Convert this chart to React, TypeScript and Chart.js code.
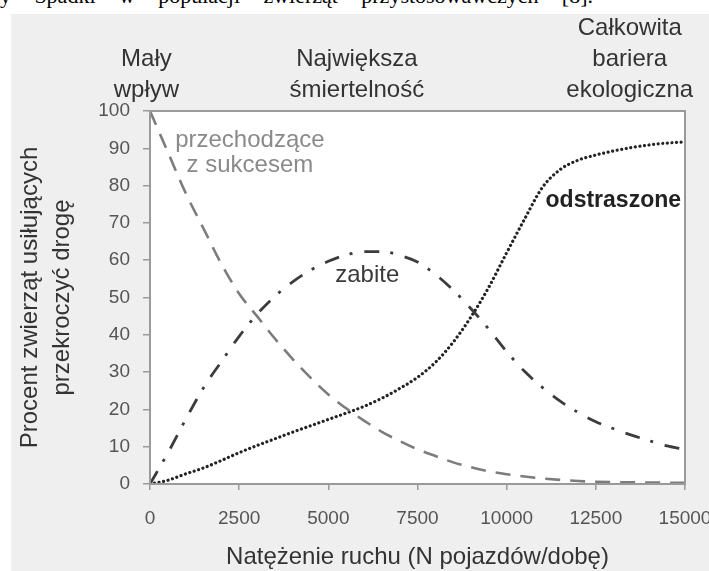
import React, { useEffect, useRef } from "react";
import { Chart, registerables } from "chart.js";

Chart.register(...registerables);

// ---- data ----
const traffic = [
  0, 500, 1000, 1500, 2000, 2500, 3000, 3500, 4000, 4500, 5000, 5500, 6000, 6500, 7000,
  7500, 8000, 8500, 9000, 9500, 10000, 10500, 11000, 11500, 12000, 12500, 13000, 13500,
  14000, 14500, 15000,
];
const successful = [
  100, 89, 78, 68.5, 59, 51, 45, 39, 33.5, 28.5, 24, 20.3, 17, 14, 11.5, 9.3, 7.5, 5.8, 4.5,
  3.4, 2.6, 2, 1.5, 1.1, 0.8, 0.6, 0.5, 0.45, 0.4, 0.35, 0.3,
];
const killed = [
  0, 8.3, 17.3, 25.8, 32.8, 39.6, 45.5, 50.3, 54.2, 57.3, 59.7, 61.4, 62.3, 62.3, 61.3, 59.5,
  56.2, 52, 47, 41.5, 35.5, 30.2, 25.9, 22.2, 19.2, 16.7, 14.8, 13.1, 11.6, 10.2, 9.2,
];
const repelled = [
  0, 1, 2.7, 4.3, 6.3, 8.4, 10.3, 12.1, 13.9, 15.6, 17.3, 19, 20.8, 23, 25.6, 28.6, 32.6,
  38, 44.8, 52.8, 62, 71, 79.5, 84.3, 86.8, 88.2, 89.3, 90.2, 90.9, 91.4, 91.7,
];

const seriesNames = ["przechodzące z sukcesem", "zabite", "odstraszone"];
const xTickStep = 2500;
const yTickStep = 10;

const headerTexts = [
  ["Mały", "wpływ"],
  ["Największa", "śmiertelność"],
  ["Całkowita", "bariera", "ekologiczna"],
];
const headerAtX = [-100, 5800, 13450];

const curveLabelTexts = [["przechodzące", "z sukcesem"], ["zabite"], ["odstraszone"]];
const curveLabelAtX = [2800, 6090, 12990];
const curveLabelAtY = [92.2, 56, 75.9];

const yTitle = ["Procent zwierząt usiłujących", "przekroczyć drogę"];
const xTitle = "Natężenie ruchu (N pojazdów/dobę)";

const FONT = "'Liberation Sans', Arial, sans-serif";

const decorPlugin = {
  id: "decor",
  beforeDatasetsDraw(chart: any) {
    const { ctx, chartArea: a } = chart;
    ctx.save();
    ctx.fillStyle = "#ffffff";
    ctx.fillRect(a.left, a.top, a.right - a.left, a.bottom - a.top);
    ctx.restore();
  },
  afterDatasetsDraw(chart: any) {
    const { ctx, chartArea: a, scales } = chart;
    ctx.save();
    ctx.strokeStyle = "#9a9a9a";
    ctx.lineWidth = 2;
    ctx.strokeRect(a.left, a.top, a.right - a.left, a.bottom - a.top);

    const styles = [
      { color: "#8a8a8a", font: `normal 24px ${FONT}` },
      { color: "#3a3a3a", font: `normal 24px ${FONT}` },
      { color: "#222222", font: `bold 23px ${FONT}` },
    ];
    ctx.textAlign = "center";
    ctx.textBaseline = "middle";
    curveLabelTexts.forEach((lines, i) => {
      const st = styles[i];
      ctx.fillStyle = st.color;
      ctx.font = st.font;
      const px = scales.x.getPixelForValue(curveLabelAtX[i]);
      const py = scales.y.getPixelForValue(curveLabelAtY[i]);
      lines.forEach((t, j) => ctx.fillText(t, px, py + j * 25));
    });

    // header texts above the plot
    ctx.fillStyle = "#333333";
    ctx.font = `normal 24px ${FONT}`;
    headerTexts.forEach((lines, i) => {
      const px = scales.x.getPixelForValue(headerAtX[i]);
      const bottomLine = a.top - 21;
      lines.forEach((t, j) => {
        const py = bottomLine - (lines.length - 1 - j) * 31;
        ctx.fillText(t, px, py);
      });
    });
    ctx.restore();
  },
};

export default function App() {
  const ref = useRef<HTMLCanvasElement | null>(null);

  useEffect(() => {
    if (!ref.current) return;
    const mk = (vals: number[]) => traffic.map((x, i) => ({ x, y: vals[i] }));
    const chart = new Chart(ref.current, {
      type: "line",
      data: {
        datasets: [
          {
            label: seriesNames[0],
            data: mk(successful),
            borderColor: "#7c7c7c",
            borderWidth: 2.6,
            borderDash: [15, 10],
            pointRadius: 0,
            cubicInterpolationMode: "monotone",
            fill: false,
          },
          {
            label: seriesNames[1],
            data: mk(killed),
            borderColor: "#3c3c3c",
            borderWidth: 2.8,
            borderDash: [15, 11, 3, 12],
            pointRadius: 0,
            cubicInterpolationMode: "monotone",
            fill: false,
          },
          {
            label: seriesNames[2],
            data: mk(repelled),
            borderColor: "#222222",
            borderWidth: 3.2,
            borderDash: [0.01, 4.6],
            borderCapStyle: "round",
            pointRadius: 0,
            cubicInterpolationMode: "monotone",
            fill: false,
          },
        ],
      },
      options: {
        responsive: false,
        animation: false,
        events: [],
        layout: { padding: { left: 0, top: 111, right: 24, bottom: 0 } },
        plugins: { legend: { display: false }, tooltip: { enabled: false } },
        scales: {
          x: {
            type: "linear",
            min: 0,
            max: 15000,
            ticks: {
              stepSize: xTickStep,
              autoSkip: false,
              maxRotation: 0,
              padding: 17,
              color: "#555555",
              font: { family: FONT, size: 19 },
              callback: (v: any) => String(v),
            },
            grid: {
              drawOnChartArea: false,
              drawTicks: true,
              tickLength: 6,
              color: "#9a9a9a",
              lineWidth: 1.5,
            },
            border: { display: true, color: "#9a9a9a", width: 2 },
            title: {
              display: true,
              text: xTitle,
              color: "#333333",
              font: { family: FONT, size: 24, lineHeight: "28px" },
              padding: { top: 0, bottom: 0 },
            },
            afterFit: (s: any) => {
              s.height = 87;
              s.paddingLeft = 0;
              s.paddingRight = 0;
            },
          },
          y: {
            min: 0,
            max: 100,
            ticks: {
              stepSize: yTickStep,
              padding: 13,
              color: "#555555",
              font: { family: FONT, size: 19 },
              callback: (v: any) => String(v),
            },
            grid: {
              drawOnChartArea: false,
              drawTicks: true,
              tickLength: 7,
              color: "#9a9a9a",
              lineWidth: 1.5,
            },
            border: { display: true, color: "#9a9a9a", width: 2 },
            title: {
              display: true,
              text: yTitle,
              color: "#333333",
              font: { family: FONT, size: 24, lineHeight: "32px" },
              padding: { top: 14, bottom: 0 },
            },
            afterFit: (s: any) => {
              s.width = 150;
              s.paddingTop = 0;
              s.paddingBottom = 0;
            },
          },
        },
      },
      plugins: [decorPlugin],
    });
    return () => chart.destroy();
  }, []);

  return (
    <div
      style={{
        position: "absolute",
        left: 0,
        top: 0,
        width: 709,
        height: 571,
        overflow: "hidden",
        background: "#ffffff",
      }}
    >
      <div
        style={{
          position: "absolute",
          left: 0,
          top: -16,
          width: 593,
          fontFamily: "'Liberation Serif', 'Times New Roman', serif",
          fontSize: 22,
          lineHeight: "24px",
          color: "#000",
          textAlign: "justify",
          textAlignLast: "justify",
          whiteSpace: "nowrap",
        }}
      >
        y Spadki w populacji zwierząt przystosowawczych [8].
      </div>
      <div
        style={{
          position: "absolute",
          left: 11,
          top: 14,
          right: 0,
          bottom: 0,
          background: "#efefef",
        }}
      />
      <canvas
        ref={ref}
        width={709}
        height={571}
        style={{ position: "absolute", left: 0, top: 0, width: 709, height: 571 }}
      />
    </div>
  );
}
